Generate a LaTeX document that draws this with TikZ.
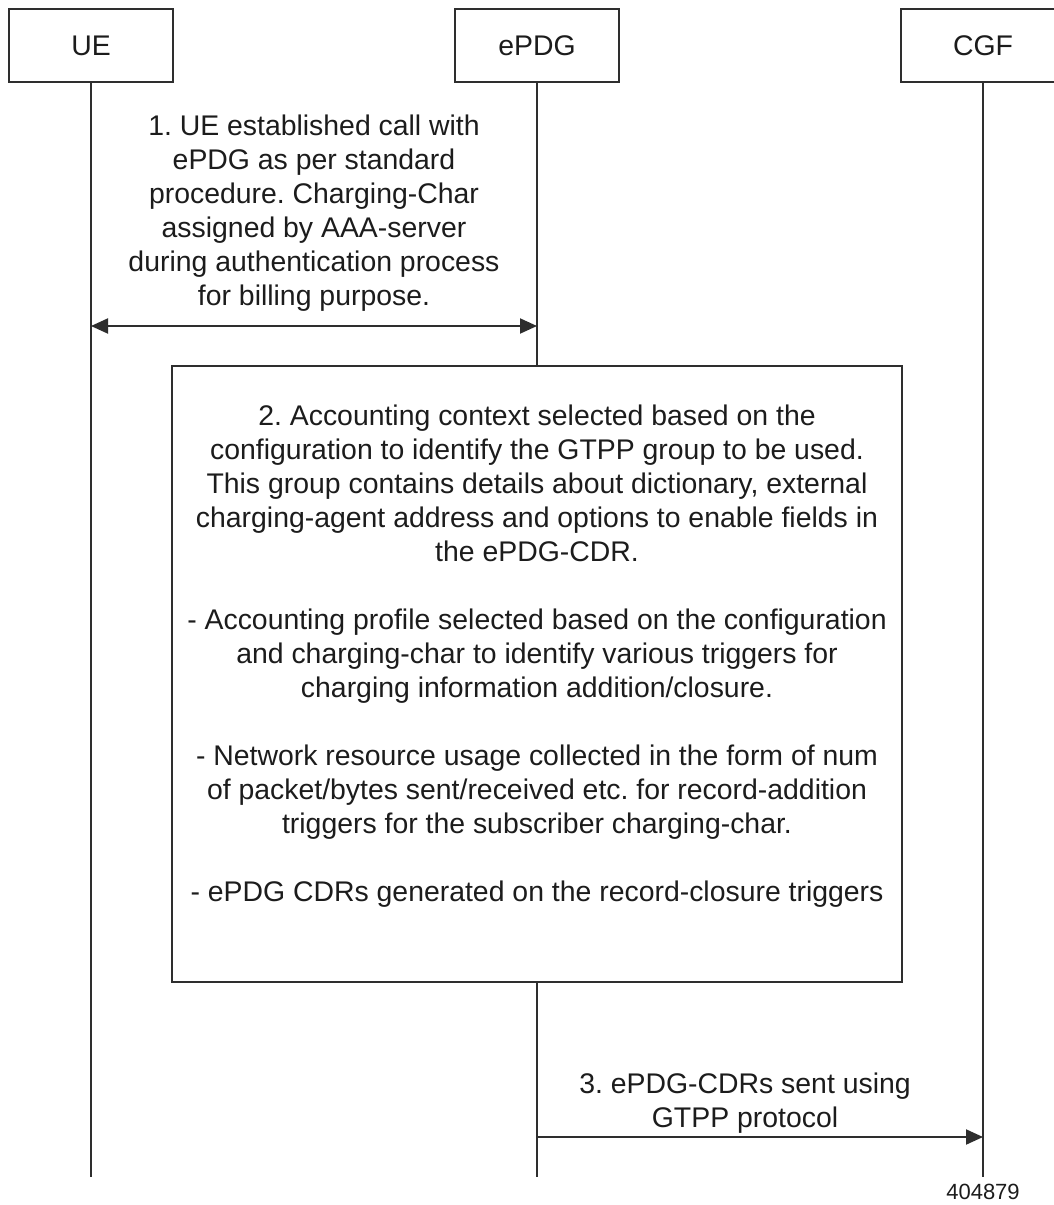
\documentclass[tikz,border=0pt]{standalone}
\usepackage{fontspec}
\setmainfont{Liberation Sans}
\usetikzlibrary{arrows.meta}
\definecolor{ln}{HTML}{2E2E2E}
\definecolor{tx}{HTML}{1C1C1C}
\frenchspacing
\begin{document}
\begin{tikzpicture}[x=1pt,y=-1pt,
  entity/.style={draw=ln,line width=2pt,fill=white,minimum width=164pt,minimum height=73pt,inner sep=0pt,text=tx,font=\fontsize{28.4}{34}\selectfont},
  lifeline/.style={draw=ln,line width=2pt},
  msg/.style={draw=ln,line width=2pt,-{Triangle[length=17pt,width=15pt]}},
  dmsg/.style={draw=ln,line width=2pt,{Triangle[length=17pt,width=15pt]}-{Triangle[length=17pt,width=15pt]}},
  lbl/.style={align=center,inner sep=0pt,anchor=north,text=tx,font=\fontsize{28.4}{34}\selectfont},
  note/.style={draw=ln,line width=2pt,fill=white}]
\useasboundingbox (0,0) rectangle (1053,1205);
\fill[white] (0,0) rectangle (1053,1205);

\node[entity] (ue) at (91,45.5) {UE};
\node[entity] (epdg) at (537,45.5) {ePDG};
\node[entity] (cgf) at (983,45.5) {CGF};

\coordinate (ueend) at (91,1177);
\coordinate (epdgend) at (537,1177);
\coordinate (cgfend) at (983,1177);

% note box
\node[note,minimum width=730pt,minimum height=616pt,inner sep=0pt] (box) at (537,674) {};

\draw[lifeline] (ue.south) -- (ueend);
\draw[lifeline] (cgf.south) -- (cgfend);
\draw[lifeline] (epdg.south) -- (box.north -| epdg.south);
\draw[lifeline] (box.south -| epdg.south) -- (epdgend);

% message 1
\node[lbl] (m1) at (314,114.6) {1. UE established call with\\ePDG as per standard\\procedure. Charging-Char\\assigned by AAA-server\\during authentication process\\for billing purpose.};
\coordinate (m1a) at (91,326);
\coordinate (m1b) at (537,326);
\draw[dmsg] (m1a) -- (m1b);

% note text
\node[lbl] (boxtext) at (537,404.6) {2. Accounting context selected based on the\\configuration to identify the GTPP group to be used.\\This group contains details about dictionary, external\\charging-agent address and options to enable fields in\\the ePDG-CDR.\\[34pt]- Accounting profile selected based on the configuration\\and charging-char to identify various triggers for\\charging information addition/closure.\\[34pt]- Network resource usage collected in the form of num\\of packet/bytes sent/received etc. for record-addition\\triggers for the subscriber charging-char.\\[34pt]- ePDG CDRs generated on the record-closure triggers};

% message 3
\node[lbl] (m3) at (745,1072.6) {3. ePDG-CDRs sent using\\GTPP protocol};
\coordinate (m3a) at (537,1137);
\coordinate (m3b) at (983,1137);
\draw[msg] (m3a) -- (m3b);

\node[lbl,font=\fontsize{22}{26}\selectfont] (fig) at (983,1184) {404879};
\end{tikzpicture}
\end{document}
